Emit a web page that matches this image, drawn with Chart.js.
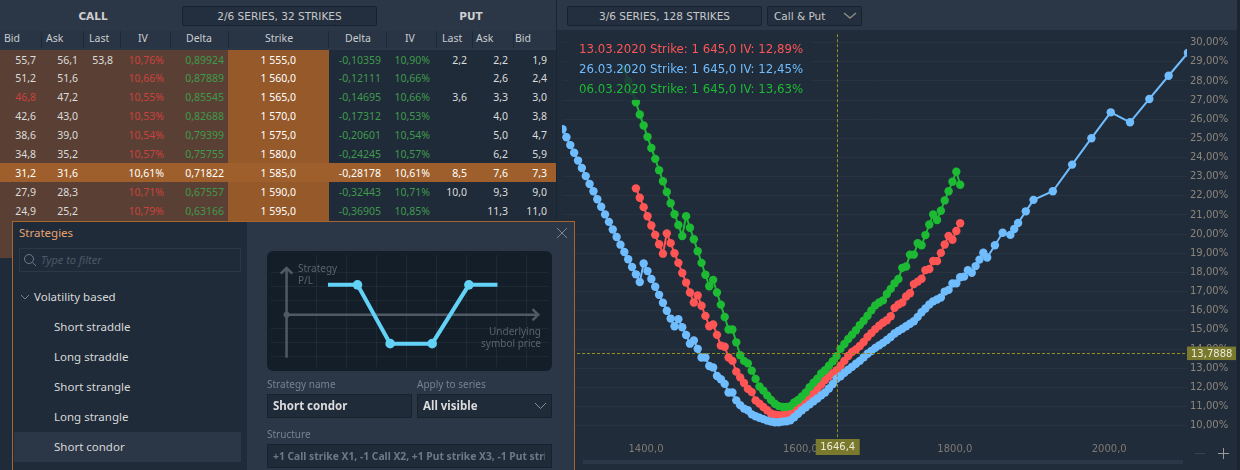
<!DOCTYPE html>
<html>
<head>
<meta charset="utf-8">
<script src="https://cdn.jsdelivr.net/npm/chart.js@4"></script>
<style>
html, body { margin: 0; padding: 0; background: #2b3646; overflow: hidden; }
body { width: 1240px; height: 470px; position: relative; font-family: "Noto Sans", sans-serif; color: #dcdcdc; }
.abs { position: absolute; white-space: nowrap; }
.box { position: absolute; box-sizing: border-box; background: #232f3e; border: 1px solid #18222d; border-radius: 2px; font-family: "DejaVu Sans", sans-serif; font-size: 10.5px; color: #c9c9c9; line-height: 18px; text-align: center; }
#chartPanel { position: absolute; left: 557px; top: 30px; width: 680px; height: 440px; background: #212c3a; }
#ivChart { position: absolute; left: 557px; top: 30px; }
#legendBox { position: absolute; left: 568px; top: 36px; width: 244px; height: 64px; background: rgba(33,44,58,0.86); font-family: "DejaVu Sans", sans-serif; font-size: 11.75px; }
#modal { position: absolute; left: 12px; top: 221px; width: 563px; height: 260px; box-sizing: border-box; border: 1px solid #a8642f; background: #2b3646; }
#modalLeft { position: absolute; left: 13px; top: 222px; width: 234px; height: 250px; background: #1f2b39; }
#diagramBg { position: absolute; left: 267px; top: 251px; width: 285px; height: 120px; background: #141e29; border-radius: 6px; }
#payoffChart { position: absolute; left: 267px; top: 251px; }
.field { position: absolute; box-sizing: border-box; background: #1f2b39; border: 1px solid #18222d; height: 24px; line-height: 22px; padding-left: 5px; font-size: 11.5px; font-weight: 700; color: #dcdcdc; overflow: hidden; white-space: nowrap; }
.lbl { position: absolute; font-size: 10px; color: #77828e; white-space: nowrap; }
.item { position: absolute; left: 54px; font-size: 11.5px; color: #d8d8d8; white-space: nowrap; }
</style>
</head>
<body>
<div id="chartPanel"></div>
<div class="abs" style="left:1237px;top:0;width:3px;height:470px;background:#1b2530"></div>
<canvas id="ivChart" width="680" height="440"></canvas>
<div id="legendBox"></div>

<div class="abs" style="left:583px;top:460px;width:600px;height:4px;background:#2b3646"></div>
<div class="abs" style="left:1195px;top:453px;width:10px;height:1px;background:#39444f"></div>
<div class="abs" style="left:1218px;top:453px;width:11px;height:1px;background:#9a9a9a"></div>
<div class="abs" style="left:1223px;top:448px;width:1px;height:11px;background:#9a9a9a"></div>

<div class="box" style="left:567px;top:6px;width:195px;height:20px">3/6 SERIES, 128 STRIKES</div>
<div class="box" style="left:767px;top:6px;width:95px;height:20px;text-align:left;padding-left:6px">Call &amp; Put</div>
<svg class="abs" style="left:843px;top:12px" width="14" height="8"><path d="M1 1 L7 6 L13 1" fill="none" stroke="#8a8a82" stroke-width="1.5"/></svg>

<div id="table"></div>

<div id="modal"></div>
<div id="modalLeft"></div>
<div class="abs" style="left:19px;top:225px;font-size:11.5px;color:#e8a26c">Strategies</div>
<svg class="abs" style="left:556px;top:227px" width="12" height="12"><path d="M1 1 L11 11 M11 1 L1 11" stroke="#7d8791" stroke-width="1"/></svg>
<div class="abs" style="left:19px;top:248px;width:222px;height:24px;box-sizing:border-box;border:1px solid #2b3846;background:#1f2b39"></div>
<svg class="abs" style="left:23px;top:253px" width="14" height="14"><circle cx="6" cy="6" r="4.5" fill="none" stroke="#6e7985" stroke-width="1"/><path d="M9.5 9.5 L13 13" stroke="#6e7985" stroke-width="1"/></svg>
<div class="abs" style="left:41px;top:252px;font-size:11px;font-style:italic;color:#4d5967">Type to filter</div>
<svg class="abs" style="left:20px;top:294px" width="10" height="7"><path d="M1 1 L5 5 L9 1" fill="none" stroke="#77828e" stroke-width="1"/></svg>
<div class="abs" style="left:34px;top:289px;font-size:11.5px;color:#d8d8d8">Volatility based</div>
<div class="abs" style="left:14px;top:432px;width:227px;height:30px;background:#2b3646"></div>
<div id="strategyList"></div>
<div id="diagramBg"></div>
<canvas id="payoffChart" width="285" height="120"></canvas>
<div class="lbl" style="left:298px;top:262px;line-height:12px;color:#59636e">Strategy<br>P/L</div>
<div class="lbl" style="left:460px;top:325px;width:81px;text-align:right;line-height:12px;color:#59636e">Underlying<br>symbol price</div>
<div class="lbl" style="left:267px;top:377px">Strategy name</div>
<div class="lbl" style="left:417px;top:377px">Apply to series</div>
<div class="field" style="left:267px;top:394px;width:145px">Short condor</div>
<div class="field" style="left:417px;top:394px;width:135px">All visible</div>
<svg class="abs" style="left:534px;top:402px" width="13" height="8"><path d="M1 1 L6.5 6.5 L12 1" fill="none" stroke="#8a8f94" stroke-width="1"/></svg>
<div class="lbl" style="left:267px;top:427px">Structure</div>
<div class="field" style="left:267px;top:444px;width:285px;color:#6e7985;font-size:10.3px;padding-right:6px"><div style="overflow:hidden">+1 Call strike X1, -1 Call X2, +1 Put strike X3, -1 Put strike X4</div></div>

<script>
// option chain table
const callBid = ['55,7', '51,2', '46,8', '42,6', '38,6', '34,8', '31,2', '27,9', '24,9'];
const callAsk = ['56,1', '51,6', '47,2', '43,0', '39,0', '35,2', '31,6', '28,3', '25,2'];
const callLast = ['53,8', '', '', '', '', '', '', '', ''];
const callIv = ['10,76%', '10,66%', '10,55%', '10,53%', '10,54%', '10,57%', '10,61%', '10,71%', '10,79%'];
const callDelta = ['0,89924', '0,87889', '0,85545', '0,82688', '0,79399', '0,75755', '0,71822', '0,67557', '0,63166'];
const tableStrikes = ['1 555,0', '1 560,0', '1 565,0', '1 570,0', '1 575,0', '1 580,0', '1 585,0', '1 590,0', '1 595,0'];
const putDelta = ['-0,10359', '-0,12111', '-0,14695', '-0,17312', '-0,20601', '-0,24245', '-0,28178', '-0,32443', '-0,36905'];
const putIv = ['10,90%', '10,66%', '10,66%', '10,53%', '10,54%', '10,57%', '10,61%', '10,71%', '10,85%'];
const putLast = ['2,2', '', '3,6', '', '', '', '8,5', '10,0', ''];
const putAsk = ['2,2', '2,6', '3,3', '4,0', '5,0', '6,2', '7,6', '9,3', '11,3'];
const putBid = ['1,9', '2,4', '3,0', '3,8', '4,7', '5,9', '7,3', '9,0', '11,0'];
const strategies = ['Short straddle', 'Long straddle', 'Short strangle', 'Long strangle', 'Short condor'];

// IV smiles, one strike list and one IV list per expiry
const greenStrikes = [1370, 1375, 1380, 1385, 1390, 1395, 1400, 1405, 1410, 1415,
    1420, 1425, 1430, 1435, 1440, 1445, 1450, 1455, 1460, 1465,
    1470, 1475, 1480, 1485, 1490, 1495, 1500, 1505, 1510, 1515,
    1520, 1525, 1530, 1535, 1540, 1545, 1550, 1555, 1560, 1565,
    1570, 1575, 1580, 1585, 1590, 1595, 1600, 1605, 1610, 1615,
    1620, 1625, 1630, 1635, 1640, 1645, 1650, 1655, 1660, 1665,
    1670, 1675, 1680, 1685, 1690, 1695, 1700, 1705, 1710, 1715,
    1720, 1725, 1730, 1735, 1740, 1745, 1750, 1755, 1760, 1765,
    1770, 1775, 1780, 1785, 1790, 1795, 1800, 1805];
const greenIv = [28.63, 27.99, 27.47, 26.89, 26.25, 25.67, 25.08, 24.50, 23.93, 23.34,
    22.76, 22.20, 21.61, 21.04, 20.48, 19.90, 20.94, 20.33, 19.73, 19.11,
    18.50, 17.88, 17.28, 17.61, 16.95, 16.32, 15.67, 15.02, 15.02, 14.35,
    13.68, 13.38, 13.25, 12.87, 12.44, 12.04, 11.83, 11.58, 11.34, 11.14,
    11.02, 10.97, 10.97, 11.02, 11.21, 11.34, 11.52, 11.73, 12.01, 12.24,
    12.45, 12.73, 12.89, 13.13, 13.36, 13.63, 14.01, 14.26, 14.52, 14.75,
    14.98, 15.25, 15.48, 15.74, 16.02, 16.28, 16.43, 16.54, 16.87, 17.14,
    17.43, 17.66, 18.24, 18.31, 18.93, 18.93, 19.52, 19.42, 19.95, 20.50,
    21.03, 20.74, 21.22, 21.76, 22.24, 22.74, 23.26, 22.58];

const redStrikes = [1385, 1390, 1395, 1400, 1405, 1410, 1415, 1420, 1425, 1430,
    1435, 1440, 1445, 1450, 1455, 1460, 1465, 1470, 1475, 1480,
    1485, 1490, 1495, 1500, 1505, 1510, 1515, 1520, 1525, 1530,
    1535, 1540, 1545, 1550, 1555, 1560, 1565, 1570, 1575, 1580,
    1585, 1590, 1595, 1600, 1605, 1610, 1615, 1620, 1625, 1630,
    1635, 1640, 1645, 1650, 1655, 1660, 1665, 1670, 1675, 1680,
    1685, 1690, 1695, 1700, 1705, 1710, 1715, 1720, 1725, 1730,
    1735, 1740, 1745, 1750, 1755, 1760, 1765, 1770, 1775, 1780,
    1785, 1790, 1795, 1800, 1805];
const redIv = [22.39, 21.90, 21.41, 20.93, 20.45, 19.96, 19.47, 18.98, 20.04, 19.53,
    19.00, 18.50, 17.97, 17.47, 16.95, 16.43, 16.80, 16.26, 15.73, 15.19,
    15.28, 14.74, 14.18, 14.12, 13.56, 13.38, 12.82, 12.52, 12.23, 11.92,
    11.75, 11.32, 11.15, 10.97, 10.80, 10.63, 10.57, 10.54, 10.54, 10.59,
    10.70, 10.83, 10.96, 11.14, 11.32, 11.47, 11.68, 11.91, 12.14, 12.38,
    12.58, 12.74, 12.89, 13.13, 13.38, 13.64, 13.85, 13.98, 14.16, 14.37,
    14.63, 14.83, 15.04, 15.22, 15.37, 15.50, 15.71, 16.15, 16.33, 16.43,
    16.74, 16.91, 17.39, 17.52, 17.67, 18.12, 18.18, 18.60, 18.59, 19.02,
    19.46, 19.91, 19.71, 20.16, 20.57];

const blueStrikes = [1290, 1295, 1300, 1305, 1310, 1315, 1320, 1325, 1330, 1335,
    1340, 1345, 1350, 1355, 1360, 1365, 1370, 1375, 1380, 1385,
    1390, 1395, 1400, 1405, 1410, 1415, 1420, 1425, 1430, 1435,
    1440, 1445, 1450, 1455, 1460, 1465, 1470, 1475, 1480, 1485,
    1490, 1495, 1500, 1505, 1510, 1515, 1520, 1525, 1530, 1535,
    1540, 1545, 1550, 1555, 1560, 1565, 1570, 1575, 1580, 1585,
    1590, 1595, 1600, 1605, 1610, 1615, 1620, 1625, 1630, 1635,
    1640, 1645, 1650, 1655, 1660, 1665, 1670, 1675, 1680, 1685,
    1690, 1695, 1700, 1705, 1710, 1715, 1720, 1725, 1730, 1735,
    1740, 1745, 1750, 1755, 1760, 1765, 1770, 1775, 1780, 1785,
    1790, 1795, 1800, 1805, 1810, 1815, 1820, 1825, 1830, 1835,
    1840, 1850, 1860, 1870, 1875, 1880, 1890, 1900, 1925, 1950,
    1975, 2000, 2025, 2050, 2075, 2100];
const blueIv = [25.48, 25.06, 24.65, 24.25, 23.84, 23.45, 23.03, 22.62, 22.24, 21.82,
    21.43, 21.03, 20.64, 20.24, 19.85, 19.45, 19.07, 18.69, 18.28, 17.90,
    17.50, 18.47, 18.07, 17.66, 17.25, 16.83, 16.42, 16.00, 15.59, 15.19,
    15.56, 15.14, 14.73, 14.28, 14.45, 14.01, 13.56, 13.56, 13.11, 13.04,
    12.59, 12.42, 12.18, 11.73, 11.73, 11.32, 11.07, 10.89, 10.80, 10.59,
    10.49, 10.41, 10.34, 10.26, 10.21, 10.18, 10.18, 10.21, 10.23, 10.28,
    10.44, 10.62, 10.80, 10.96, 11.11, 11.27, 11.42, 11.58, 11.73, 11.94,
    12.17, 12.45, 12.58, 12.76, 12.92, 13.07, 13.23, 13.38, 13.57, 13.75,
    13.90, 14.06, 14.19, 14.32, 14.47, 14.63, 14.81, 14.94, 15.06, 15.19,
    15.32, 15.45, 15.68, 15.92, 16.12, 16.33, 16.49, 16.59, 16.69, 17.00,
    17.09, 17.42, 17.43, 17.75, 17.78, 18.12, 17.98, 18.33, 18.67, 19.03,
    18.78, 19.42, 20.07, 19.96, 20.27, 20.58, 21.19, 21.79, 22.24, 23.63,
    25.01, 26.36, 25.84, 27.06, 28.27, 29.47];

const xTicks = [1400, 1600, 1800, 2000];
const yTicks = [10, 11, 12, 13, 14, 15, 16, 17, 18, 19, 20, 21, 22, 23, 24, 25, 26, 27, 28, 29, 30];
const legendRows = ['13.03.2020 Strike: 1 645,0 IV: 12,89%', '26.03.2020 Strike: 1 645,0 IV: 12,45%', '06.03.2020 Strike: 1 645,0 IV: 13,63%'];
const cursorStrike = 1646.4;
const cursorIv = 13.7888;

// strategy diagram
const payoffX = [42.6, 73, 106.6, 149.8, 187.6, 217];
const payoffY = [32, 32, -31, -31, 32, 32];
const diagramGridX = [31, 62, 92.5, 123, 154, 185, 216, 247];
const diagramGridY = [-45, -30, -15, 15, 30, 45];

const colors = { red: '#ff5555', blue: '#6fbdff', green: '#1dba34' };

// ---- table ----
const table = document.getElementById('table');
function addDiv(css, text) {
    const d = document.createElement('div');
    d.className = 'abs';
    d.style.cssText = css;
    if (text !== undefined) d.textContent = text;
    table.appendChild(d);
    return d;
}

const rowTop = 50, rowH = 18.9, atmRow = 6;
addDiv('left:0;top:30px;width:556px;height:18px;background:#293544');
addDiv('left:0;top:' + rowTop + 'px;width:556px;height:420px;background:#1f2b39');
addDiv('left:0;top:' + rowTop + 'px;width:228px;height:208px;background:#5a4034');
addDiv('left:228px;top:' + rowTop + 'px;width:101px;height:172px;background:#96592a');
addDiv('left:0;top:' + (rowTop + atmRow * rowH) + 'px;width:556px;height:' + rowH + 'px;background:#9e5f2c');
addDiv('left:556px;top:0;width:1px;height:470px;background:#1b2530');

[41, 83, 120, 170, 228, 328, 386, 436, 472, 513].forEach(x => {
    addDiv('left:' + x + 'px;top:31px;width:1px;height:17px;background:#1f2936');
});
addDiv('left:68px;top:10px;width:50px;text-align:center;font-family:\'DejaVu Sans\';font-size:10.5px;font-weight:700;color:#cfcfcf', 'CALL');
addDiv('left:446px;top:10px;width:50px;text-align:center;font-family:\'DejaVu Sans\';font-size:10.5px;font-weight:700;color:#cfcfcf', 'PUT');
const seriesBox = addDiv('left:182px;top:6px;width:195px;height:20px', '2/6 SERIES, 32 STRIKES');
seriesBox.className = 'box';

const headers = [['Bid', 4, 'l'], ['Ask', 46, 'l'], ['Last', 89, 'l'], ['IV', 143, 'c'], ['Delta', 199, 'c'], ['Strike', 279, 'c'],
    ['Delta', 358, 'c'], ['IV', 410, 'c'], ['Last', 442, 'l'], ['Ask', 476, 'l'], ['Bid', 515, 'l']];
headers.forEach(h => {
    const pos = h[2] == 'l' ? 'left:' + h[1] + 'px' : 'left:' + (h[1] - 40) + 'px;width:80px;text-align:center';
    addDiv(pos + ';top:31px;font-size:10.5px;color:#c8ccd0', h[0]);
});

const columns = [
    { vals: callBid, right: 36 }, { vals: callAsk, right: 78 }, { vals: callLast, right: 113 },
    { vals: callIv, right: 164, color: '#c9423f' }, { vals: callDelta, right: 224, color: '#3f9a4b' },
    { vals: tableStrikes, right: 296, color: '#ffffff' },
    { vals: putDelta, right: 381, color: '#3f9a4b' }, { vals: putIv, right: 430, color: '#3f9a4b' },
    { vals: putLast, right: 467 }, { vals: putAsk, right: 508 }, { vals: putBid, right: 547 }
];
columns.forEach(col => {
    col.vals.forEach((v, i) => {
        if (!v) return;
        let c = col.color || '#dcdcdc';
        if (i == atmRow) c = '#ffffff';
        if (col.vals === callBid && i == 2) c = '#c9423f';
        addDiv('right:' + (1240 - col.right) + 'px;top:' + (rowTop + i * rowH + 1.5) + 'px;font-size:10.5px;line-height:16px;color:' + c, v);
    });
});

strategies.forEach((s, i) => {
    const d = document.createElement('div');
    d.className = 'item';
    d.style.top = (319 + i * 30) + 'px';
    d.textContent = s;
    document.getElementById('strategyList').appendChild(d);
});

// legend text, colours follow the same order as the rows
const legendColors = [colors.red, colors.blue, colors.green];
legendRows.forEach((t, i) => {
    const d = document.createElement('div');
    d.className = 'abs';
    d.style.cssText = 'left:11px;top:' + (5.5 + i * 20) + 'px;color:' + legendColors[i];
    d.textContent = t;
    document.getElementById('legendBox').appendChild(d);
});

// ---- main chart ----
function series(strikes, iv, color, order) {
    return {
        data: strikes.map((s, i) => ({ x: s, y: iv[i] })),
        borderColor: color,
        backgroundColor: color,
        borderWidth: 2,
        pointRadius: 4.2,
        pointBorderWidth: 0,
        tension: 0,
        order: order
    };
}

const cursorPlugin = {
    id: 'cursor',
    afterDraw(chart) {
        const ctx = chart.ctx, a = chart.chartArea;
        const px = chart.scales.x.getPixelForValue(cursorStrike);
        const py = chart.scales.y.getPixelForValue(cursorIv);
        ctx.save();
        ctx.strokeStyle = '#94901f';
        ctx.lineWidth = 1;
        ctx.setLineDash([3, 2]);
        ctx.beginPath();
        ctx.moveTo(Math.floor(px) + 0.5, a.top);
        ctx.lineTo(Math.floor(px) + 0.5, a.bottom);
        ctx.moveTo(a.left, Math.round(py) + 0.5);
        ctx.lineTo(a.right, Math.round(py) + 0.5);
        ctx.stroke();
        ctx.setLineDash([]);
        // tags on both axes
        ctx.fillStyle = '#7a7a2e';
        ctx.fillRect(px - 22, a.bottom + 1, 44, 16);
        ctx.fillRect(a.right, py - 6.5, 49, 13.5);
        ctx.fillStyle = '#ecebd8';
        ctx.font = '10px "DejaVu Sans"';
        ctx.textBaseline = 'middle';
        ctx.textAlign = 'center';
        ctx.fillText(cursorStrike.toFixed(1).replace('.', ','), px, a.bottom + 9);
        ctx.textAlign = 'left';
        ctx.fillText(cursorIv.toFixed(4).replace('.', ','), a.right + 4, py + 1);
        ctx.restore();
    }
};

new Chart(document.getElementById('ivChart'), {
    type: 'line',
    data: {
        datasets: [
            series(redStrikes, redIv, colors.red, 3),
            series(blueStrikes, blueIv, colors.blue, 2),
            series(greenStrikes, greenIv, colors.green, 1)
        ]
    },
    options: {
        responsive: false,
        animation: false,
        devicePixelRatio: 1,
        events: [],
        layout: { padding: { left: 5, right: 0, top: 0, bottom: 0 } },
        plugins: { legend: { display: false }, tooltip: { enabled: false } },
        scales: {
            x: {
                type: 'linear',
                min: 1289.25,
                max: 2098.8,
                // fixed axis size, and no extra margin for the outer labels
                afterFit: s => { s.height = 32; s.paddingLeft = 0; s.paddingRight = 0; },
                afterBuildTicks: s => { s.ticks = xTicks.map(v => ({ value: v })); },
                grid: { display: false, drawTicks: false },
                border: { display: false },
                ticks: {
                    color: '#7f7a74',
                    font: { family: 'DejaVu Sans', size: 10 },
                    maxRotation: 0,
                    padding: 5,
                    labelOffset: -1.5,
                    callback: v => v.toFixed(1).replace('.', ',')
                }
            },
            y: {
                type: 'linear',
                position: 'right',
                min: 9.354,
                max: 30.44,
                afterFit: s => { s.width = 50; s.paddingTop = 0; s.paddingBottom = 0; },
                afterBuildTicks: s => { s.ticks = yTicks.map(v => ({ value: v })); },
                grid: { color: 'rgba(255,255,255,0.035)', drawTicks: false },
                border: { display: false },
                ticks: {
                    color: '#8c857c',
                    font: { family: 'DejaVu Sans', size: 10 },
                    padding: 3,
                    callback: v => v.toFixed(2).replace('.', ',') + '%'
                }
            }
        }
    },
    plugins: [cursorPlugin]
});

// ---- strategy diagram ----
const axisColor = '#4f5a66';
function axisLine(points) {
    return { data: points, borderColor: axisColor, borderWidth: 2.5, pointRadius: 0, order: 2 };
}
const axisPoint = { data: [{ x: 0, y: 0 }], borderWidth: 0, backgroundColor: axisColor, pointRadius: 3, order: 2 };

new Chart(document.getElementById('payoffChart'), {
    type: 'line',
    data: {
        datasets: [
            {
                data: payoffX.map((x, i) => ({ x: x, y: payoffY[i] })),
                borderColor: '#62d2f7',
                backgroundColor: '#62d2f7',
                borderWidth: 4,
                pointBorderWidth: 0,
                pointRadius: [0, 4.8, 4.8, 4.8, 4.8, 0],
                order: 1
            },
            axisLine([{ x: 0, y: 0 }, { x: 259, y: 0 }]),
            axisLine([{ x: 253, y: 6 }, { x: 259, y: 0 }, { x: 253, y: -6 }]),
            axisLine([{ x: 0, y: -46 }, { x: 0, y: 50 }]),
            axisLine([{ x: -6, y: 44 }, { x: 0, y: 50 }, { x: 6, y: 44 }]),
            axisPoint
        ]
    },
    options: {
        responsive: false,
        animation: false,
        devicePixelRatio: 1,
        events: [],
        layout: { padding: 0 },
        plugins: { legend: { display: false }, tooltip: { enabled: false } },
        scales: {
            x: {
                type: 'linear', min: -16, max: 269,
                afterFit: s => { s.height = 0; s.paddingLeft = 0; s.paddingRight = 0; },
                afterBuildTicks: s => { s.ticks = diagramGridX.map(v => ({ value: v })); },
                grid: { color: 'rgba(255,255,255,0.05)', drawTicks: false },
                border: { display: false },
                ticks: { display: false }
            },
            y: {
                type: 'linear', min: -56, max: 64,
                afterFit: s => { s.width = 0; s.paddingTop = 0; s.paddingBottom = 0; },
                afterBuildTicks: s => { s.ticks = diagramGridY.map(v => ({ value: v })); },
                grid: { color: 'rgba(255,255,255,0.05)', drawTicks: false },
                border: { display: false },
                ticks: { display: false }
            }
        }
    }
});
</script>
</body>
</html>
